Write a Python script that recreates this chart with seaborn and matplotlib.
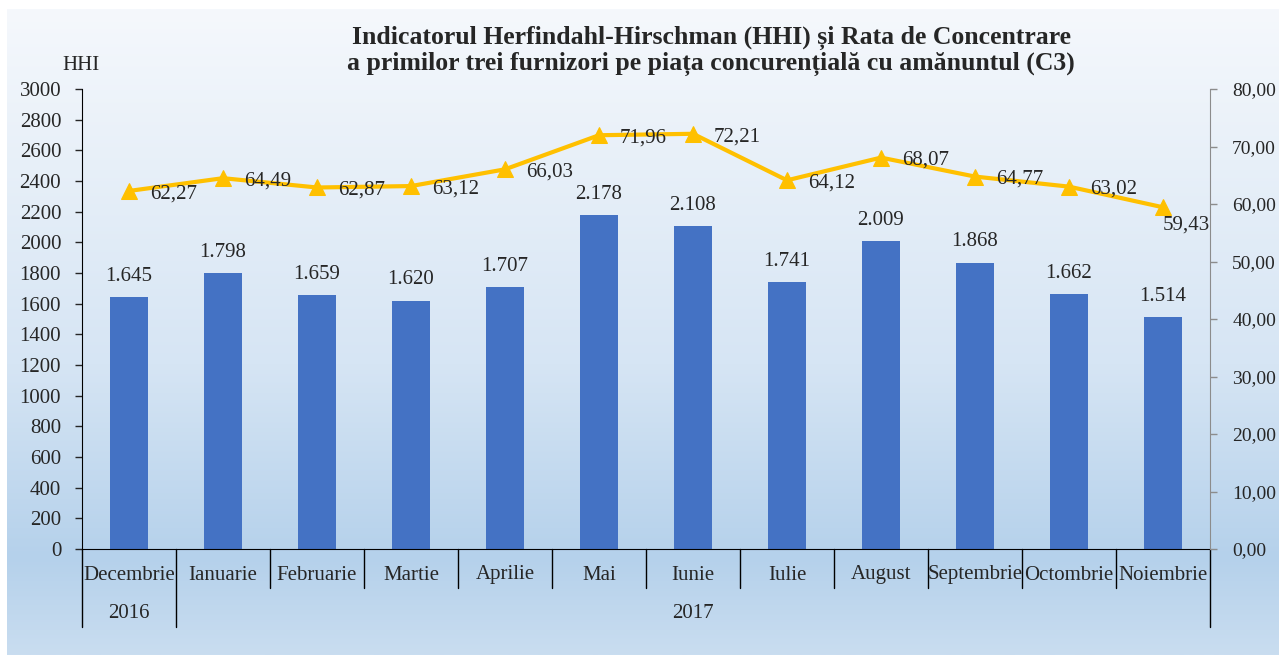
# HHI and C3 concentration chart

import numpy as np
import pandas as pd
import matplotlib
matplotlib.use("Agg")
import matplotlib.pyplot as plt
import matplotlib.transforms as mtransforms
from matplotlib.colors import LinearSegmentedColormap
from matplotlib.ticker import FuncFormatter, MultipleLocator
import seaborn as sns

# Data

months = ['Decembrie', 'Ianuarie', 'Februarie', 'Martie', 'Aprilie', 'Mai',
          'Iunie', 'Iulie', 'August', 'Septembrie', 'Octombrie', 'Noiembrie']
years = ['2016', '2017']
year_spans = [(0, 0), (1, 11)]

hhi = [1645, 1798, 1659, 1620, 1707, 2178, 2108, 1741, 2009, 1868, 1662, 1514]
c3 = [62.27, 64.49, 62.87, 63.12, 66.03, 71.96, 72.21, 64.12, 68.07, 64.77, 63.02, 59.43]

title = ("Indicatorul Herfindahl-Hirschman (HHI) și Rata de Concentrare\n"
         "a primilor trei furnizori pe piața concurențială cu amănuntul (C3)")

df = pd.DataFrame({'month': months, 'hhi': hhi, 'c3': c3, 'pos': range(len(months))})

# Style

sns.set_style("white")
plt.rcParams['font.family'] = ['Liberation Serif', 'DejaVu Serif']
plt.rcParams['font.size'] = 15

W, H = 1279, 655
fig = plt.figure(figsize=(W / 100, H / 100), dpi=100)
fig.patch.set_facecolor('white')

# gradient background
bg = fig.add_axes([7 / W, 0, 1 - 7 / W, (H - 9) / H], zorder=-5)
cmap = LinearSegmentedColormap.from_list(
    'bg', [(0, '#F5F8FC'), (0.55, '#D6E5F4'), (0.85, '#B5D1EB'), (1, '#C9DDF0')])
grad = np.linspace(0, 1, 256).reshape(-1, 1)
bg.imshow(grad, aspect='auto', cmap=cmap, extent=[0, 1, 0, 1], origin='upper')
bg.set_axis_off()

x0, x1 = 82, 1210
y0, y1 = 549, 89
ax = fig.add_axes([x0 / W, (H - y0) / H, (x1 - x0) / W, (y0 - y1) / H])
ax.set_facecolor('none')

# Bars

sns.barplot(data=df, x='month', y='hhi', color='#4472C4', saturation=1,
            width=0.4, linewidth=0, edgecolor='none', ax=ax, zorder=2)
ax.set_xlim(-0.5, len(months) - 0.5)
ax.set_ylim(0, 3000)
ax.yaxis.set_major_locator(MultipleLocator(200))
ax.set_xlabel('')
ax.set_ylabel('')
ax.set_xticks([])

for i, v in enumerate(hhi):
    ax.annotate(f"{v:,}".replace(',', '.'), (i, v), xytext=(0, 8),
                textcoords='offset points', ha='center', va='bottom', fontsize=15)

for s in ['top', 'right']:
    ax.spines[s].set_visible(False)
ax.spines['left'].set_color('black')
ax.spines['bottom'].set_color('black')
ax.tick_params(axis='y', direction='out', length=5, width=1, pad=10,
               left=True, labelsize=15)

# Line on secondary axis

ax2 = ax.twinx()
ax2.set_facecolor('none')
sns.lineplot(data=df, x='pos', y='c3', color='#FFC000', linewidth=3,
             marker='^', markersize=11, markeredgecolor='#FFC000', ax=ax2, zorder=3)
ax2.set_ylim(0, 80)
ax2.set_xlim(-0.5, len(months) - 0.5)
ax2.yaxis.set_major_locator(MultipleLocator(10))
ax2.yaxis.set_major_formatter(FuncFormatter(lambda v, p: f"{v:.2f}".replace('.', ',')))
ax2.set_ylabel('')
ax2.set_xlabel('')
for s in ['top', 'left', 'bottom']:
    ax2.spines[s].set_visible(False)
ax2.spines['right'].set_color('#8C8C8C')
ax2.tick_params(axis='y', direction='out', length=5, width=1, color='#8C8C8C',
                pad=11, right=True, labelsize=14)

for i, v in enumerate(c3):
    lab = f"{v:.2f}".replace('.', ',')
    if i == len(c3) - 1:
        ax2.annotate(lab, (i, v), xytext=(17, -13), textcoords='offset points',
                     ha='center', va='center', fontsize=15)
    else:
        ax2.annotate(lab, (i, v), xytext=(15, -2), textcoords='offset points',
                     ha='left', va='center', fontsize=15)

# Two-level category axis

tr = mtransforms.blended_transform_factory(ax.transData, ax.transAxes)
ah = y0 - y1
row1 = -39 / ah
row2 = -78 / ah
for b in np.arange(-0.5, len(months), 1.0):
    group_edge = any(np.isclose(b, s - 0.5) or np.isclose(b, e + 0.5) for s, e in year_spans)
    ax.plot([b, b], [0, row2 if group_edge else row1], color='black', lw=1,
            transform=tr, clip_on=False)
for i, m in enumerate(months):
    ax.text(i, -26 / ah, m, transform=tr, ha='center', va='center', fontsize=15)
for yr, (s, e) in zip(years, year_spans):
    ax.text((s + e) / 2, -64 / ah, yr, transform=tr, ha='center', va='center', fontsize=15)

# Titles

fig.text(81 / W, 1 - 65 / H, 'HHI', ha='center', va='center', fontsize=15)
fig.text(711 / W, 1 - 51 / H, title, ha='center', va='center', fontsize=18.5,
         fontweight='bold', linespacing=1.15)

fig.savefig('out.png', dpi=100)
